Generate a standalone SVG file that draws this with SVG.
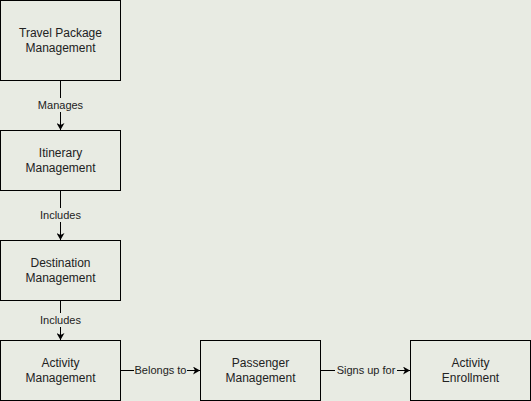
<svg xmlns="http://www.w3.org/2000/svg" width="531" height="401" viewBox="0 0 531 401">
<style>
.n{fill:#e8ebe3;stroke:#000;stroke-width:1}
.t{font-family:"Liberation Sans",Arial,sans-serif;font-size:12px;fill:#222;text-anchor:middle}
.l{font-family:"Liberation Sans",Arial,sans-serif;font-size:11px;fill:#222;text-anchor:middle}
.e{stroke:#000;stroke-width:1;fill:none;marker-end:url(#a)}
.lb{fill:#e8ebe3}
</style>
<defs>
<marker id="a" markerWidth="8" markerHeight="8" refX="7" refY="4" orient="auto" markerUnits="userSpaceOnUse">
<path d="M0,0 L7,4 L0,8 L2,4 Z" fill="#000"/>
</marker>
</defs>
<rect width="531" height="401" fill="#e8ebe3"/>
<g id="edges">
<line class="e" x1="60.5" y1="80.5" x2="60.5" y2="130"/>
<rect class="lb" x="36" y="98" width="49" height="14"/>
<text class="l" x="60.5" y="109">Manages</text>
<line class="e" x1="60.5" y1="190.5" x2="60.5" y2="240"/>
<rect class="lb" x="38" y="208" width="45" height="14"/>
<text class="l" x="60.5" y="219">Includes</text>
<line class="e" x1="60.5" y1="300.5" x2="60.5" y2="340"/>
<rect class="lb" x="38" y="313" width="45" height="14"/>
<text class="l" x="60.5" y="324">Includes</text>
<line class="e" x1="120.5" y1="370.5" x2="200" y2="370.5"/>
<rect class="lb" x="134" y="363" width="53" height="14"/>
<text class="l" x="160.5" y="374">Belongs to</text>
<line class="e" x1="320.5" y1="370.5" x2="410" y2="370.5"/>
<rect class="lb" x="335" y="363" width="62" height="14"/>
<text class="l" x="366" y="374">Signs up for</text>
</g>
<g id="travel"><rect class="n" x="0.5" y="0.5" width="120" height="80"/><text class="t" x="60.5" y="37">Travel Package</text><text class="t" x="60.5" y="52">Management</text></g>
<g id="itinerary"><rect class="n" x="0.5" y="130.5" width="120" height="60"/><text class="t" x="60.5" y="157">Itinerary</text><text class="t" x="60.5" y="172">Management</text></g>
<g id="destination"><rect class="n" x="0.5" y="240.5" width="120" height="60"/><text class="t" x="60.5" y="267">Destination</text><text class="t" x="60.5" y="282">Management</text></g>
<g id="activity"><rect class="n" x="0.5" y="340.5" width="120" height="60"/><text class="t" x="60.5" y="367">Activity</text><text class="t" x="60.5" y="382">Management</text></g>
<g id="passenger"><rect class="n" x="200.5" y="340.5" width="120" height="60"/><text class="t" x="260.5" y="367">Passenger</text><text class="t" x="260.5" y="382">Management</text></g>
<g id="enrollment"><rect class="n" x="410.5" y="340.5" width="120" height="60"/><text class="t" x="470.5" y="367">Activity</text><text class="t" x="470.5" y="382">Enrollment</text></g>
</svg>
